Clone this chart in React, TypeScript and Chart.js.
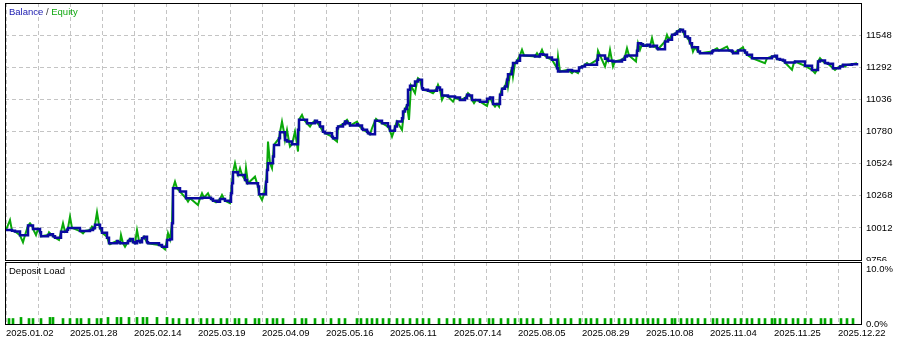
import React, { useEffect, useRef } from 'react';
import { Chart, registerables } from 'chart.js';

Chart.register(...registerables);

// ---------- data ----------
const xDateLabels = [
  '2025.01.02', '2025.01.28', '2025.02.14', '2025.03.19', '2025.04.09', '2025.05.16', '2025.06.11',
  '2025.07.14', '2025.08.05', '2025.08.29', '2025.10.08', '2025.11.04', '2025.11.25', '2025.12.22',
];
const xGridDeals = [0, 32, 64, 96, 128, 160, 192, 224, 256, 288, 320, 352, 384, 416, 448, 480, 512, 544, 576, 608, 640, 672, 704, 736, 768, 800, 832];
const yTickValues = [9756, 10012, 10268, 10524, 10780, 11036, 11292, 11548, 11804];
const loadTickValues = [0, 10];

// [deal number, balance]
const balance: [number, number][] = [
  [0, 9995], [6, 9990], [9, 9983], [14, 9953], [22, 10030], [27, 10003], [34, 9977], [35, 9945], [42, 9955], [44, 9961],
  [47, 9945], [49, 9934], [55, 9982], [61, 9998], [62, 10012], [74, 9987], [84, 9995], [87, 10009], [89, 10037], [94, 10009],
  [96, 9974], [101, 9934], [103, 9890], [111, 9908], [112, 9897], [114, 9890], [122, 9908], [124, 9923], [127, 9897], [129, 9889],
  [131, 9908], [134, 9897], [136, 9929], [138, 9942], [141, 9897], [142, 9889], [153, 9876], [156, 9862], [161, 9916], [164, 9921],
  [166, 10049], [167, 10328], [174, 10301], [180, 10248], [196, 10253], [205, 10243], [207, 10229], [211, 10221], [214, 10243], [219, 10229],
  [224, 10221], [225, 10288], [226, 10368], [227, 10455], [232, 10434], [239, 10394], [241, 10368], [252, 10341], [253, 10280], [260, 10380],
  [261, 10474], [262, 10527], [267, 10580], [268, 10673], [273, 10726], [274, 10774], [279, 10713], [281, 10700], [286, 10679], [292, 10793],
  [293, 10873], [301, 10846], [309, 10865], [311, 10854], [314, 10819], [317, 10779], [319, 10766], [326, 10739], [327, 10726], [331, 10806],
  [332, 10819], [337, 10838], [339, 10859], [341, 10846], [344, 10827], [351, 10838], [352, 10827], [356, 10801], [357, 10793], [361, 10779],
  [362, 10766], [364, 10758], [369, 10865], [376, 10846], [382, 10819], [384, 10785], [389, 10819], [391, 10859], [396, 10886], [397, 10939],
  [399, 10960], [401, 10990], [402, 11112], [404, 11144], [409, 11178], [412, 11192], [416, 11125], [417, 11112], [422, 11104], [431, 11130],
  [434, 11112], [436, 11066], [442, 11058], [449, 11050], [454, 11032], [459, 11045], [461, 11072], [463, 11066], [466, 11032], [474, 11018],
  [481, 11040], [484, 11050], [487, 11000], [494, 11072], [496, 11120], [499, 11138], [501, 11192], [502, 11237], [506, 11285], [507, 11325],
  [511, 11343], [514, 11386], [529, 11378], [534, 11396], [537, 11391], [541, 11370], [546, 11351], [551, 11285], [552, 11258], [562, 11271],
  [566, 11263], [573, 11290], [576, 11298], [579, 11311], [591, 11351], [592, 11386], [599, 11359], [602, 11343], [607, 11338], [616, 11351],
  [619, 11378], [621, 11386], [631, 11423], [632, 11484], [635, 11476], [637, 11463], [641, 11471], [644, 11457], [647, 11463], [651, 11444],
  [652, 11436], [659, 11497], [662, 11511], [666, 11550], [669, 11558], [671, 11577], [674, 11590], [677, 11577], [679, 11537], [682, 11524],
  [684, 11484], [686, 11452], [692, 11417], [694, 11404], [706, 11417], [707, 11425], [726, 11417], [727, 11404], [732, 11425], [739, 11409],
  [741, 11391], [746, 11364], [766, 11378], [769, 11383], [771, 11357], [774, 11351], [777, 11346], [779, 11330], [789, 11338], [799, 11303],
  [806, 11271], [812, 11338], [814, 11346], [819, 11325], [822, 11319], [827, 11285], [834, 11298], [837, 11311], [846, 11316], [851, 11325],
];

// [deal number, equity]
const equity: [number, number][] = [
  [0, 9995], [4, 10075], [6, 9990], [9, 9983], [14, 9953], [17, 9897], [19, 9953], [22, 10030], [24, 10049], [26, 10030],
  [27, 10003], [30, 9955], [32, 10003], [34, 9977], [35, 9945], [42, 9955], [43, 9977], [45, 9961], [47, 9945], [49, 9934],
  [53, 9916], [55, 9982], [57, 10049], [59, 9982], [61, 9998], [62, 10012], [64, 10101], [66, 10012], [74, 9987], [77, 9969],
  [79, 9987], [84, 9995], [86, 10022], [88, 10009], [89, 10037], [91, 10136], [93, 10037], [94, 10009], [96, 9974], [101, 9942],
  [103, 9890], [104, 9881], [106, 9890], [111, 9908], [112, 9897], [114, 9890], [115, 9955], [117, 9890], [119, 9862], [121, 9890],
  [122, 9908], [124, 9923], [127, 9897], [129, 9889], [131, 9995], [133, 9908], [134, 9897], [136, 9929], [138, 9942], [141, 9897],
  [142, 9889], [153, 9876], [156, 9862], [159, 9841], [161, 9916], [162, 9969], [164, 9921], [166, 10049], [167, 10328], [169, 10380],
  [171, 10328], [174, 10301], [180, 10248], [182, 10221], [184, 10248], [192, 10195], [194, 10248], [196, 10288], [198, 10253], [202, 10288],
  [204, 10253], [205, 10243], [207, 10229], [210, 10216], [211, 10221], [214, 10243], [216, 10274], [218, 10243], [219, 10229], [224, 10208],
  [226, 10368], [227, 10455], [229, 10527], [231, 10455], [232, 10434], [234, 10487], [236, 10434], [239, 10394], [240, 10487], [242, 10368],
  [249, 10420], [251, 10368], [252, 10341], [253, 10280], [256, 10234], [258, 10280], [260, 10380], [261, 10474], [262, 10700], [264, 10527],
  [266, 10487], [267, 10580], [268, 10673], [273, 10726], [274, 10774], [276, 10859], [278, 10774], [279, 10713], [281, 10793], [283, 10700],
  [284, 10660], [286, 10679], [289, 10779], [291, 10679], [292, 10620], [293, 10873], [296, 10912], [298, 10873], [301, 10846], [304, 10819],
  [306, 10846], [309, 10865], [311, 10854], [314, 10819], [317, 10779], [319, 10766], [326, 10739], [327, 10726], [331, 10700], [332, 10819],
  [337, 10838], [339, 10859], [341, 10873], [343, 10846], [344, 10827], [351, 10859], [353, 10827], [356, 10801], [357, 10793], [361, 10779],
  [362, 10766], [364, 10758], [366, 10806], [369, 10865], [370, 10880], [372, 10865], [376, 10846], [382, 10819], [384, 10785], [386, 10739],
  [388, 10785], [389, 10819], [391, 10859], [396, 10793], [398, 10939], [399, 10960], [401, 10990], [403, 10873], [405, 11144], [409, 11085],
  [411, 11178], [412, 11205], [414, 11192], [416, 11125], [417, 11112], [422, 11104], [427, 11085], [429, 11104], [431, 11130], [432, 11152],
  [434, 11112], [436, 11032], [438, 11066], [442, 11058], [447, 11018], [449, 11050], [454, 11032], [459, 11045], [461, 11072], [462, 11085],
  [464, 11066], [466, 11032], [468, 11006], [470, 11032], [474, 11018], [481, 10984], [483, 11040], [484, 11050], [487, 11000], [489, 10979],
  [491, 11000], [493, 10979], [494, 11072], [496, 11120], [499, 11138], [501, 11192], [502, 11138], [504, 11237], [506, 11285], [507, 11218],
  [509, 11325], [511, 11343], [514, 11386], [516, 11431], [518, 11386], [529, 11378], [531, 11404], [533, 11378], [534, 11396], [536, 11431],
  [538, 11391], [541, 11370], [546, 11351], [551, 11285], [552, 11378], [554, 11258], [562, 11271], [566, 11245], [568, 11263], [572, 11245],
  [574, 11290], [576, 11298], [579, 11311], [581, 11325], [583, 11311], [591, 11351], [592, 11423], [594, 11386], [599, 11298], [601, 11359],
  [602, 11343], [604, 11431], [606, 11343], [607, 11298], [609, 11338], [616, 11351], [619, 11378], [621, 11444], [623, 11386], [630, 11338],
  [631, 11423], [632, 11484], [634, 11431], [636, 11476], [637, 11463], [641, 11471], [644, 11457], [646, 11524], [648, 11457], [651, 11444],
  [652, 11436], [659, 11497], [661, 11550], [663, 11511], [666, 11550], [669, 11558], [671, 11577], [674, 11596], [676, 11590], [677, 11577],
  [679, 11537], [682, 11524], [684, 11484], [686, 11452], [687, 11417], [689, 11452], [692, 11417], [694, 11404], [706, 11417], [707, 11425],
  [711, 11444], [713, 11425], [721, 11457], [723, 11425], [726, 11417], [727, 11404], [732, 11425], [737, 11452], [739, 11409], [741, 11391],
  [746, 11364], [759, 11325], [761, 11364], [766, 11378], [769, 11383], [771, 11357], [774, 11351], [777, 11346], [779, 11330], [786, 11271],
  [788, 11330], [789, 11338], [799, 11303], [806, 11271], [809, 11245], [811, 11271], [812, 11338], [814, 11364], [816, 11346], [819, 11325],
  [822, 11319], [827, 11285], [829, 11271], [831, 11285], [834, 11298], [837, 11311], [839, 11298], [841, 11311], [846, 11316], [851, 11325],
];

const loadDeals = [
  3, 7, 15, 23, 27, 35, 44, 47, 57, 64, 71, 75, 83, 91, 95, 102, 111, 115, 123, 131, 137, 141, 151, 161, 167, 173, 181, 187, 195, 201,
  207, 215, 221, 229, 233, 240, 249, 253, 261, 267, 271, 277, 289, 296, 300, 309, 317, 325, 333, 339, 351, 355, 361, 366, 371, 377, 383,
  391, 397, 404, 411, 417, 423, 433, 441, 448, 454, 463, 467, 474, 483, 487, 495, 502, 509, 515, 521, 527, 535, 545, 552, 559, 565, 574,
  580, 585, 591, 599, 605, 613, 619, 625, 631, 637, 642, 647, 652, 659, 666, 669, 675, 681, 686, 692, 699, 707, 711, 717, 722, 729, 735,
  741, 746, 753, 759, 766, 769, 774, 780, 787, 792, 799, 805, 815, 819, 825, 835, 841, 847,
];
const loadValues = [
  1.0, 1.0, 1.2, 1.0, 1.0, 1.0, 1.2, 1.2, 1.0, 1.0, 1.0, 1.0, 1.0, 1.0, 1.0, 1.2, 1.2, 1.2, 1.2, 1.2, 1.2, 1.2, 1.2, 1.2, 1.0, 1.0, 1.0, 1.0, 1.0, 1.0,
  1.0, 1.0, 1.0, 1.0, 1.0, 1.0, 1.0, 1.0, 1.0, 1.0, 1.0, 1.0, 1.0, 1.0, 1.0, 1.0, 1.0, 1.0, 1.0, 1.0, 1.0, 1.0, 1.0, 1.0, 1.0, 1.0, 1.0,
  1.0, 1.0, 1.0, 1.0, 1.0, 1.0, 1.0, 1.0, 1.0, 1.0, 1.0, 1.0, 1.0, 1.0, 1.0, 1.0, 1.0, 1.0, 1.0, 1.0, 1.0, 1.0, 1.0, 1.0, 1.0, 1.0, 1.0,
  1.0, 1.0, 1.0, 1.0, 1.0, 1.0, 1.0, 1.0, 1.0, 1.0, 1.0, 1.0, 1.0, 1.0, 1.0, 1.0, 1.0, 1.0, 1.0, 1.0, 1.0, 1.0, 1.0, 1.0, 1.0, 1.0, 1.0,
  1.0, 1.0, 1.0, 1.0, 1.0, 1.0, 1.0, 1.0, 1.0, 1.0, 1.0, 1.0, 1.0, 1.0, 1.0, 1.0, 1.0, 1.0,
];

// ---------- styles ----------
const FONT = 'Liberation Sans';
const BLUE = '#0a0aa0';
const GREEN = '#0aa80a';
const GRID = '#c4c4c4';
const DASH = [4, 3];
const X_MIN = -1;
const X_MAX = 856;

const framePlugin = {
  id: 'frame',
  afterDraw(chart: any) {
    const { ctx, chartArea: a } = chart;
    ctx.save();
    ctx.strokeStyle = '#000';
    ctx.lineWidth = 1;
    ctx.strokeRect(a.left + 0.5, a.top + 0.5, a.right - a.left - 1, a.bottom - a.top);
    ctx.restore();
  },
};

function makeTextPlugin(parts: { text: string; color: string }[], x: number, y: number) {
  return {
    id: 'caption',
    afterDraw(chart: any) {
      const ctx = chart.ctx;
      ctx.save();
      ctx.font = `9.5px "${FONT}"`;
      ctx.textBaseline = 'middle';
      ctx.textAlign = 'left';
      let cx = x;
      for (const p of parts) {
        ctx.fillStyle = p.color;
        ctx.fillText(p.text, cx, y);
        cx += ctx.measureText(p.text).width;
      }
      ctx.restore();
    },
  };
}

const setTicks = (values: number[]) => (scale: any) => {
  scale.ticks = values.map((v) => ({ value: v }));
};

export default function App() {
  const topRef = useRef<HTMLCanvasElement>(null);
  const botRef = useRef<HTMLCanvasElement>(null);

  useEffect(() => {
    const top = new Chart(topRef.current!, {
      type: 'line',
      data: {
        datasets: [
          {
            label: 'Balance',
            data: balance.map(([x, y]) => ({ x, y })),
            borderColor: BLUE,
            borderWidth: 2.5,
            pointRadius: 0,
            stepped: true,
            fill: false,
          },
          {
            label: 'Equity',
            data: equity.map(([x, y]) => ({ x, y })),
            borderColor: GREEN,
            borderWidth: 2,
            pointRadius: 0,
            tension: 0,
            fill: false,
          },
        ],
      },
      options: {
        animation: false,
        responsive: false,
        events: [],
        layout: { padding: { left: 5, top: 3, right: 0, bottom: 1 } },
        plugins: { legend: { display: false }, tooltip: { enabled: false } },
        scales: {
          x: {
            type: 'linear',
            min: X_MIN,
            max: X_MAX,
            afterBuildTicks: setTicks(xGridDeals),
            afterFit: (s: any) => {
              s.height = 0;
              s.paddingLeft = 0;
              s.paddingRight = 0;
            },
            ticks: { display: false },
            grid: { color: GRID, lineWidth: 1, drawTicks: false },
            border: { display: false, dash: DASH },
          },
          y: {
            type: 'linear',
            position: 'right',
            min: 9756,
            max: 11804,
            afterBuildTicks: setTicks(yTickValues),
            afterFit: (s: any) => {
              s.width = 36;
              s.paddingTop = 0;
              s.paddingBottom = 0;
            },
            ticks: {
              padding: 4,
              color: '#000',
              font: { family: FONT, size: 9.5 },
              callback: (v: any) => (v === 11804 ? '' : String(v)),
            },
            grid: { color: GRID, lineWidth: 1, drawTicks: false },
            border: { display: false, dash: DASH },
          },
        },
      } as any,
      plugins: [
        framePlugin,
        makeTextPlugin(
          [
            { text: 'Balance', color: '#1a1ab0' },
            { text: ' / ', color: '#333' },
            { text: 'Equity', color: '#12a812' },
          ],
          9,
          12,
        ),
      ],
    });

    const bottom = new Chart(botRef.current!, {
      type: 'bar',
      data: {
        datasets: [
          {
            label: 'Deposit Load',
            data: loadDeals.map((x, i) => ({ x, y: loadValues[i] })),
            backgroundColor: '#00a800',
            borderWidth: 0,
            barThickness: 2,
          },
        ],
      },
      options: {
        animation: false,
        responsive: false,
        events: [],
        layout: { padding: { left: 5, top: 0, right: 0, bottom: 0 } },
        plugins: { legend: { display: false }, tooltip: { enabled: false } },
        scales: {
          x: {
            type: 'linear',
            min: X_MIN,
            max: X_MAX,
            offset: false,
            afterBuildTicks: setTicks(xGridDeals),
            afterFit: (s: any) => {
              s.height = 17;
              s.paddingLeft = 0;
              s.paddingRight = 0;
            },
            ticks: {
              autoSkip: false,
              maxRotation: 0,
              minRotation: 0,
              align: 'start',
              padding: 4,
              color: '#000',
              font: { family: FONT, size: 9.5 },
              callback: (v: any) => (v % 64 === 0 ? xDateLabels[v / 64] : ''),
            },
            grid: { color: GRID, lineWidth: 1, drawTicks: false, offset: false },
            border: { display: false, dash: DASH },
          },
          y: {
            type: 'linear',
            position: 'right',
            min: 0,
            max: 11.27,
            afterBuildTicks: setTicks(loadTickValues),
            afterFit: (s: any) => {
              s.width = 36;
              s.paddingTop = 0;
              s.paddingBottom = 0;
            },
            ticks: {
              padding: 4,
              color: '#000',
              font: { family: FONT, size: 9.5 },
              callback: (v: any) => Number(v).toFixed(1) + '%',
            },
            grid: { display: false, drawTicks: false },
            border: { display: false },
          },
        },
      } as any,
      plugins: [framePlugin, makeTextPlugin([{ text: 'Deposit Load', color: '#000' }], 9, 9)],
    });

    return () => {
      top.destroy();
      bottom.destroy();
    };
  }, []);

  return (
    <div style={{ position: 'absolute', left: 0, top: 0, width: 898, height: 341, background: '#fff', overflow: 'hidden' }}>
      <canvas ref={topRef} width={898} height={261} style={{ position: 'absolute', left: 0, top: 0, width: 898, height: 261 }} />
      <canvas ref={botRef} width={898} height={79} style={{ position: 'absolute', left: 0, top: 262, width: 898, height: 79 }} />
    </div>
  );
}
